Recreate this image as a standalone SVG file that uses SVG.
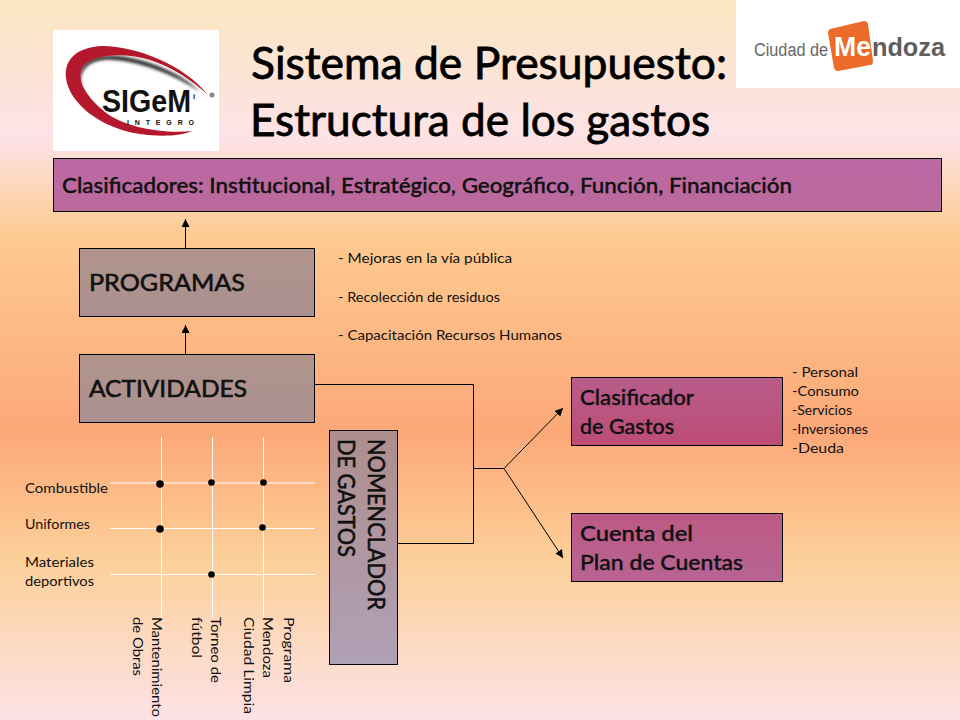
<svg xmlns="http://www.w3.org/2000/svg" width="960" height="720" viewBox="0 0 960 720">
<defs>
<linearGradient id="bg" x1="0" y1="0" x2="0" y2="1">
<stop offset="0" stop-color="#fbe6c2"/><stop offset="0.19" stop-color="#fde2e6"/><stop offset="0.33" stop-color="#fdca90"/><stop offset="0.6" stop-color="#fca878"/><stop offset="0.78" stop-color="#fcd09a"/><stop offset="1" stop-color="#fde2e6"/>
</linearGradient>
<linearGradient id="mag" x1="0" y1="0" x2="0" y2="1"><stop offset="0" stop-color="#bc68a4"/><stop offset="1" stop-color="#ba6a9c"/></linearGradient>
<linearGradient id="taupe" x1="0" y1="0" x2="0" y2="1"><stop offset="0" stop-color="#b0948c"/><stop offset="1" stop-color="#ac9090"/></linearGradient>
<linearGradient id="rose" x1="0" y1="0" x2="0" y2="1"><stop offset="0" stop-color="#b85c8c"/><stop offset="1" stop-color="#bc4c74"/></linearGradient>
<linearGradient id="rose2" x1="0" y1="0" x2="0" y2="1"><stop offset="0" stop-color="#bc5a84"/><stop offset="1" stop-color="#b86494"/></linearGradient>
<linearGradient id="nom" x1="0" y1="0" x2="0" y2="1"><stop offset="0" stop-color="#ae8e8c"/><stop offset="1" stop-color="#b0a0b6"/></linearGradient>
<marker id="ah" markerUnits="userSpaceOnUse" markerWidth="10" markerHeight="10" refX="8" refY="4" orient="auto"><path d="M0 0L8 4L0 8Z" fill="#000"/></marker>
<filter id="soft" x="-20%" y="-20%" width="140%" height="140%"><feGaussianBlur stdDeviation="1.500"/></filter>
<style>
text{font-family:Lato,"Open Sans","Liberation Sans",sans-serif;fill:#111}
.title{font-size:44px;font-weight:400;fill:#000;stroke:#000;stroke-width:.8}
.box{stroke:#000;stroke-width:1}
.h{font-size:24px;font-weight:400;stroke:#111;stroke-width:.6}
.m{font-size:21px;font-weight:500;stroke:#111;stroke-width:.35}
.s{font-size:14px}
.w{stroke:#fff;stroke-width:1;fill:none}
.c{stroke:#000;stroke-width:1;fill:none}
.d{fill:#000}
.lg{font-family:"Liberation Sans",sans-serif}
</style>
</defs>
<rect width="960" height="720" fill="url(#bg)"/>

<g id="logo-sigemi">
<rect x="53" y="30" width="166" height="121" fill="#fff"/>
<path d="M200 92C180 70 130 52 102 56C86 58 78 68 79 80C81 98 100 118 130 128C112 122 92 108 84 92C76 76 84 62 104 60C130 58 175 74 200 92Z" fill="#333" filter="url(#soft)"/>
<path d="M208 95C185 65 135 46 103 46C76 47 64 60 66 78C69 103 100 128 140 134C160 137 182 136 192 131C165 134 125 128 105 112C88 98 76 82 82 68C90 54 125 52 150 60C172 67 192 80 208 95Z" fill="#b5182c"/>
<text class="lg" x="102" y="112" font-size="31" font-weight="700" textLength="89" lengthAdjust="spacingAndGlyphs" style="fill:#111">SIGeM</text>
<text class="lg" x="193" y="99" font-size="8" font-weight="700">i</text>
<text class="lg" x="127" y="125" font-size="7" font-weight="700" textLength="67">INTEGRO</text>
<circle cx="212" cy="95" r="2.500" fill="#888"/>
</g>

<g id="logo-mendoza">
<rect x="736" y="0" width="224" height="88" fill="#fff"/>
<path d="M830 29L864 21Q867 21 868 24L873 61Q873 65 870 65L838 71Q835 71 834 68L828 33Q828 30 830 29Z" fill="#ec6a2a"/>
<text class="lg" x="754" y="56" font-size="18" textLength="74" lengthAdjust="spacingAndGlyphs" style="fill:#666">Ciudad de</text>
<text class="lg" x="834" y="56" font-size="27" font-weight="700" textLength="37" lengthAdjust="spacingAndGlyphs" style="fill:#fff">Me</text>
<text class="lg" x="872" y="56" font-size="26" font-weight="700" textLength="73" lengthAdjust="spacingAndGlyphs" style="fill:#5e5e5e">ndoza</text>
</g>

<g id="title">
<text class="title" x="251" y="79" textLength="476" lengthAdjust="spacingAndGlyphs">Sistema de Presupuesto:</text>
<text class="title" x="250" y="136" textLength="460" lengthAdjust="spacingAndGlyphs">Estructura de los gastos</text>
</g>

<g id="clasificadores">
<rect class="box" x="53.500" y="158.500" width="888" height="53" fill="url(#mag)"/>
<text class="m" x="62" y="193" textLength="730" lengthAdjust="spacingAndGlyphs">Clasificadores: Institucional, Estratégico, Geográfico, Función, Financiación</text>
</g>

<g id="programas">
<rect class="box" x="79.500" y="248.500" width="235" height="68" fill="url(#taupe)"/>
<text class="h" x="89" y="291" textLength="156" lengthAdjust="spacingAndGlyphs">PROGRAMAS</text>
</g>
<g id="actividades">
<rect class="box" x="79.500" y="354.500" width="235" height="68" fill="url(#taupe)"/>
<text class="h" x="89" y="397" textLength="158" lengthAdjust="spacingAndGlyphs">ACTIVIDADES</text>
</g>
<g id="programas-list">
<text class="s" x="338" y="263" textLength="174" lengthAdjust="spacingAndGlyphs">- Mejoras en la vía pública</text>
<text class="s" x="338" y="302" textLength="162" lengthAdjust="spacingAndGlyphs">- Recolección de residuos</text>
<text class="s" x="338" y="340" textLength="224" lengthAdjust="spacingAndGlyphs">- Capacitación Recursos Humanos</text>
</g>

<g id="nomenclador">
<rect class="box" x="329.500" y="430.500" width="68" height="234" fill="url(#nom)"/>
<text class="h" transform="translate(368,439) rotate(90)" textLength="171" lengthAdjust="spacingAndGlyphs">NOMENCLADOR</text>
<text class="h" transform="translate(338,439) rotate(90)" textLength="118" lengthAdjust="spacingAndGlyphs">DE GASTOS</text>
</g>

<g id="clasificador-gastos">
<rect class="box" x="571.500" y="377.500" width="211" height="68" fill="url(#rose)"/>
<text class="m" x="580" y="405" textLength="114" lengthAdjust="spacingAndGlyphs">Clasificador</text>
<text class="m" x="580" y="434" textLength="94" lengthAdjust="spacingAndGlyphs">de Gastos</text>
</g>
<g id="cuenta-plan">
<rect class="box" x="571.500" y="513.500" width="211" height="68" fill="url(#rose2)"/>
<text class="m" x="580" y="541" textLength="113" lengthAdjust="spacingAndGlyphs">Cuenta del</text>
<text class="m" x="580" y="570" textLength="163" lengthAdjust="spacingAndGlyphs">Plan de Cuentas</text>
</g>
<g id="gastos-list">
<text class="s" x="792" y="377" textLength="66" lengthAdjust="spacingAndGlyphs">- Personal</text>
<text class="s" x="792" y="396" textLength="67" lengthAdjust="spacingAndGlyphs">-Consumo</text>
<text class="s" x="792" y="415" textLength="60" lengthAdjust="spacingAndGlyphs">-Servicios</text>
<text class="s" x="792" y="434" textLength="76" lengthAdjust="spacingAndGlyphs">-Inversiones</text>
<text class="s" x="792" y="453" textLength="52" lengthAdjust="spacingAndGlyphs">-Deuda</text>
</g>

<g id="connectors">
<path class="c" d="M185.500 248V219" marker-end="url(#ah)"/>
<path class="c" d="M185.500 354V325" marker-end="url(#ah)"/>
<path class="c" d="M315 384.500H473.500V543.500H398"/>
<path class="c" d="M474 468.500H504"/>
<path class="c" d="M504 468.500L563 408" marker-end="url(#ah)"/>
<path class="c" d="M504 468.500L563 558" marker-end="url(#ah)"/>
</g>

<g id="matrix">
<path class="w" d="M110 483H315M110 528.500H315M110 574.500H315M161.500 437V618M212.500 437V618M263.500 437V618"/>
<circle class="d" cx="160" cy="484" r="3.800"/>
<circle class="d" cx="211.500" cy="482.500" r="3.300"/>
<circle class="d" cx="263.500" cy="482.500" r="3.300"/>
<circle class="d" cx="160" cy="529" r="3.800"/>
<circle class="d" cx="262.500" cy="527.500" r="3.300"/>
<circle class="d" cx="211.500" cy="574.500" r="3.300"/>
<text class="s" x="25" y="493" textLength="83" lengthAdjust="spacingAndGlyphs">Combustible</text>
<text class="s" x="25" y="529" textLength="65" lengthAdjust="spacingAndGlyphs">Uniformes</text>
<text class="s" x="25" y="567" textLength="69" lengthAdjust="spacingAndGlyphs">Materiales</text>
<text class="s" x="25" y="586" textLength="69" lengthAdjust="spacingAndGlyphs">deportivos</text>
<text class="s" transform="translate(152,617) rotate(90)" textLength="100" lengthAdjust="spacingAndGlyphs">Mantenimiento</text>
<text class="s" transform="translate(133,617) rotate(90)" textLength="59" lengthAdjust="spacingAndGlyphs">de Obras</text>
<text class="s" transform="translate(211,617) rotate(90)" textLength="66" lengthAdjust="spacingAndGlyphs">Torneo de</text>
<text class="s" transform="translate(192,617) rotate(90)" textLength="41" lengthAdjust="spacingAndGlyphs">fútbol</text>
<text class="s" transform="translate(284,617) rotate(90)" textLength="66" lengthAdjust="spacingAndGlyphs">Programa</text>
<text class="s" transform="translate(263,617) rotate(90)" textLength="61" lengthAdjust="spacingAndGlyphs">Mendoza</text>
<text class="s" transform="translate(244,617) rotate(90)" textLength="97" lengthAdjust="spacingAndGlyphs">Ciudad Limpia</text>
</g>
</svg>
